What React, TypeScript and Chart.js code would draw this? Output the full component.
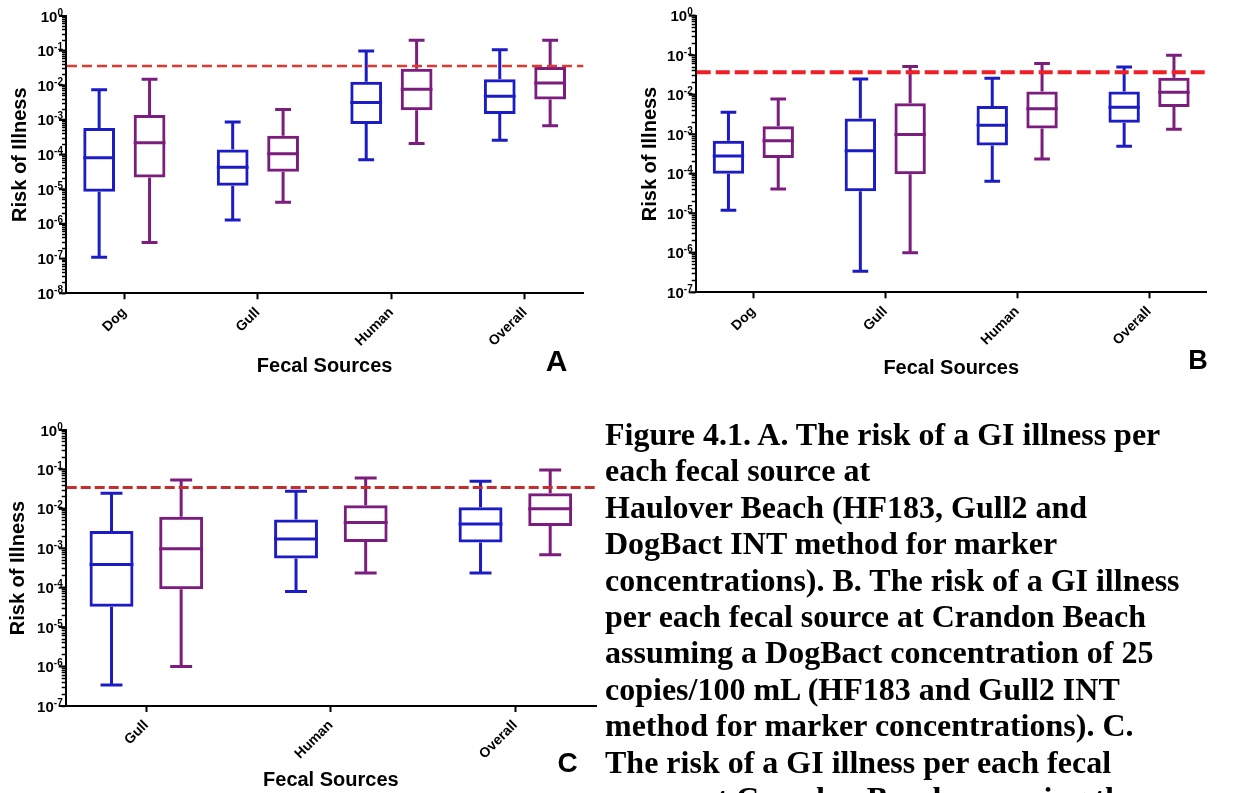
import React, { useEffect, useRef } from 'react';
import { Chart, registerables } from 'chart.js';

Chart.register(...registerables);

// Fecal source categories for each panel
const haulCategories = ['Dog', 'Gull', 'Human', 'Overall'];
const crandonCategories = ['Dog', 'Gull', 'Human', 'Overall'];
const crandonNoDogCategories = ['Gull', 'Human', 'Overall'];

// Five-number summaries per category: [min, Q1, median, Q3, max]
const haulBlue = [
  [1.1e-7, 8.5e-6, 8.1e-5, 5.9e-4, 7.5e-3],
  [1.3e-6, 1.26e-5, 4.3e-5, 1.4e-4, 8.7e-4],
  [7.1e-5, 7.7e-4, 3.2e-3, 1.26e-2, 0.098],
  [2.6e-4, 1.5e-3, 4.8e-3, 1.5e-2, 0.107],
];
const haulPurple = [
  [2.9e-7, 2.2e-5, 2.2e-4, 1.4e-3, 1.5e-2],
  [4.2e-6, 3.2e-5, 1.07e-4, 3.5e-4, 2.0e-3],
  [2.1e-4, 1.9e-3, 7.7e-3, 3.0e-2, 0.2],
  [6.8e-4, 3.9e-3, 1.17e-2, 3.4e-2, 0.2],
];
const crandonBlue = [
  [1.2e-5, 1.0e-4, 2.8e-4, 6.8e-4, 3.6e-3],
  [3.4e-7, 3.6e-5, 3.8e-4, 2.5e-3, 2.5e-2],
  [6.5e-5, 5.2e-4, 1.69e-3, 5.2e-3, 2.6e-2],
  [5.0e-4, 1.96e-3, 4.8e-3, 1.2e-2, 0.05],
];
const crandonPurple = [
  [4.1e-5, 2.5e-4, 6.8e-4, 1.6e-3, 7.8e-3],
  [1.0e-6, 9.7e-5, 9.8e-4, 6.1e-3, 5.2e-2],
  [2.35e-4, 1.4e-3, 4.4e-3, 1.2e-2, 6.2e-2],
  [1.33e-3, 4.9e-3, 1.15e-2, 2.7e-2, 0.1],
];
const crandonNoDogBlue = [
  [3.4e-7, 3.3e-5, 3.9e-4, 2.75e-3, 2.5e-2],
  [8.0e-5, 5.5e-4, 1.73e-3, 5.4e-3, 2.8e-2],
  [2.35e-4, 1.4e-3, 4.1e-3, 1.1e-2, 0.05],
];
const crandonNoDogPurple = [
  [1.0e-6, 9.1e-5, 9.8e-4, 6.3e-3, 5.4e-2],
  [2.36e-4, 1.44e-3, 4.5e-3, 1.23e-2, 6.1e-2],
  [6.9e-4, 3.7e-3, 1.0e-2, 2.5e-2, 0.097],
];

// Benchmark risk shown as a dashed horizontal line
const haulBenchmark = 0.036;
const crandonBenchmark = 0.037;
const crandonNoDogBenchmark = 0.035;

// Y axis ranges (powers of ten)
const haulRange = [1e-8, 1];
const crandonRange = [1e-7, 1];
const crandonNoDogRange = [1e-7, 1];

const captionLines = [
  'Figure 4.1. A. The risk of a GI illness per',
  'each fecal source at',
  'Haulover Beach (HF183, Gull2 and',
  'DogBact INT method for marker',
  'concentrations). B. The risk of a GI illness',
  'per each fecal source at Crandon Beach',
  'assuming a DogBact concentration of 25',
  'copies/100 mL (HF183 and Gull2 INT',
  'method for marker concentrations). C.',
  'The risk of a GI illness per each fecal',
  'source at Crandon Beach assuming the',
];

const BLUE = '#1c1cc4';
const PURPLE = '#7a1d7c';
const SANS = '"Liberation Sans", Arial, sans-serif';

// Ticks at 1..9 x 10^n for every decade of the range
function logTicks(min: number, max: number) {
  const out: { value: number; major: boolean }[] = [];
  const e0 = Math.round(Math.log10(min));
  const e1 = Math.round(Math.log10(max));
  for (let e = e0; e <= e1; e++) {
    for (let k = 1; k <= 9; k++) {
      if (e === e1 && k > 1) break;
      out.push({ value: k * Math.pow(10, e), major: k === 1 });
    }
  }
  return out;
}

// Whiskers, medians, the dashed benchmark line and 10^n axis labels
const boxWhiskers = {
  id: 'boxWhiskers',
  afterDatasetsDraw(chart: any, _args: any, opts: any) {
    const { ctx, chartArea, scales } = chart;
    const yS = scales.y;
    const py = (v: number) => yS.getPixelForValue(v);
    ctx.save();
    chart.data.datasets.forEach((ds: any, di: number) => {
      const meta = chart.getDatasetMeta(di);
      ctx.strokeStyle = ds.borderColor;
      ctx.lineWidth = opts.lineWidth;
      ctx.lineCap = 'butt';
      meta.data.forEach((bar: any, i: number) => {
        const [mn, q1, md, q3, mx] = ds.stats[i];
        const { x, width } = bar.getProps(['x', 'width'], true);
        const half = width / 2;
        const cap = (width * opts.capRatio) / 2;
        ctx.beginPath();
        ctx.moveTo(x - half, py(md));
        ctx.lineTo(x + half, py(md));
        ctx.moveTo(x, py(q3));
        ctx.lineTo(x, py(mx));
        ctx.moveTo(x - cap, py(mx));
        ctx.lineTo(x + cap, py(mx));
        ctx.moveTo(x, py(q1));
        ctx.lineTo(x, py(mn));
        ctx.moveTo(x - cap, py(mn));
        ctx.lineTo(x + cap, py(mn));
        ctx.stroke();
      });
    });
    const yb = py(opts.benchmark);
    ctx.strokeStyle = opts.benchColor;
    ctx.lineWidth = opts.benchWidth;
    ctx.setLineDash(opts.benchDash);
    ctx.beginPath();
    ctx.moveTo(chartArea.left + 1, yb);
    ctx.lineTo(chartArea.right, yb);
    ctx.stroke();
    ctx.restore();
  },
  afterDraw(chart: any, _args: any, opts: any) {
    const { ctx, chartArea, scales } = chart;
    const yS = scales.y;
    ctx.save();
    ctx.fillStyle = '#000';
    ctx.strokeStyle = '#000';
    ctx.lineWidth = 2;
    ctx.textAlign = 'right';
    ctx.textBaseline = 'alphabetic';
    logTicks(opts.range[0], opts.range[1])
      .filter((t) => t.major)
      .forEach((t) => {
        const y = yS.getPixelForValue(t.value);
        // longer tick mark at each decade
        ctx.beginPath();
        ctx.moveTo(chartArea.left - 7, y);
        ctx.lineTo(chartArea.left, y);
        ctx.stroke();
        const exp = String(Math.round(Math.log10(t.value)));
        const right = chartArea.left - 3;
        ctx.font = `bold 10px ${SANS}`;
        ctx.fillText(exp, right, y - 0.5);
        const ew = ctx.measureText(exp).width;
        ctx.font = `bold 15px ${SANS}`;
        ctx.fillText('10', right - ew, y + 5.5);
      });
    ctx.restore();
  },
};

type PanelProps = {
  categories: string[];
  blue: number[][];
  purple: number[][];
  benchmark: number;
  range: number[];
  left: number;
  top: number;
  w: number;
  h: number;
  yAxisWidth: number;
  padTop: number;
  padRight: number;
  xAxisHeight: number;
  yTitlePad: number;
  xTitlePad: number;
  benchColor: string;
  benchWidth: number;
  benchDash: number[];
};

function BoxPanel(p: PanelProps) {
  const ref = useRef<HTMLCanvasElement>(null);
  useEffect(() => {
    const n = p.categories.length;
    const toBars = (stats: number[][]) => stats.map((s, i) => ({ x: i, y: [s[1], s[3]] }));
    const series = (stats: number[][], color: string) =>
      ({
        data: toBars(stats),
        stats,
        borderColor: color,
        backgroundColor: 'rgba(0,0,0,0)',
        borderWidth: 3,
        borderSkipped: false,
        categoryPercentage: 0.755,
        barPercentage: 0.63,
      } as any);
    const chart = new Chart(ref.current as HTMLCanvasElement, {
      type: 'bar',
      data: { datasets: [series(p.blue, BLUE), series(p.purple, PURPLE)] },
      options: {
        responsive: false,
        animation: false,
        events: [],
        layout: { padding: { top: p.padTop, right: p.padRight, bottom: 0, left: 0 } },
        plugins: {
          legend: { display: false },
          tooltip: { enabled: false },
          boxWhiskers: {
            lineWidth: 3,
            capRatio: 0.5,
            range: p.range,
            benchmark: p.benchmark,
            benchColor: p.benchColor,
            benchWidth: p.benchWidth,
            benchDash: p.benchDash,
          },
        } as any,
        scales: {
          x: {
            type: 'linear',
            offset: false,
            min: -0.437,
            max: n - 1 + 0.437,
            afterBuildTicks: (s: any) => {
              s.ticks = p.categories.map((_, i) => ({ value: i }));
            },
            afterFit: (s: any) => {
              s.height = p.xAxisHeight;
            },
            grid: {
              offset: false,
              drawOnChartArea: false,
              drawTicks: true,
              tickLength: 6,
              tickWidth: 2,
              tickColor: '#000',
            },
            border: { display: true, color: '#000', width: 2 },
            ticks: {
              autoSkip: false,
              minRotation: 45,
              maxRotation: 45,
              padding: 5,
              color: '#000',
              font: { family: SANS, size: 14, weight: 'bold' },
              callback: (v: any) => p.categories[Math.round(Number(v))] ?? '',
            },
            title: {
              display: true,
              text: 'Fecal Sources',
              color: '#000',
              font: { family: SANS, size: 20, weight: 'bold' },
              padding: { top: 0, bottom: p.xTitlePad },
            },
          } as any,
          y: {
            type: 'logarithmic',
            min: p.range[0],
            max: p.range[1],
            afterBuildTicks: (s: any) => {
              s.ticks = logTicks(p.range[0], p.range[1]);
            },
            afterFit: (s: any) => {
              s.width = p.yAxisWidth;
            },
            grid: { drawOnChartArea: false, drawTicks: true, tickLength: 4, tickWidth: 1.5, tickColor: '#000' },
            border: { display: true, color: '#000', width: 2 },
            ticks: {
              autoSkip: false,
              padding: 0,
              color: '#000',
              font: { family: SANS, size: 15, weight: 'bold' },
              callback: () => '',
            },
            title: {
              display: true,
              text: 'Risk of Illness',
              color: '#000',
              font: { family: SANS, size: 20, weight: 'bold' },
              padding: { top: p.yTitlePad, bottom: 0 },
            },
          } as any,
        },
      },
      plugins: [boxWhiskers as any],
    });
    return () => chart.destroy();
  }, []);
  return (
    <canvas
      ref={ref}
      width={p.w}
      height={p.h}
      style={{ position: 'absolute', left: p.left, top: p.top, width: p.w, height: p.h }}
    />
  );
}

const letterStyle = (x: number, y: number, size: number): React.CSSProperties => ({
  position: 'absolute',
  left: x,
  top: y,
  transform: 'translate(-50%, -50%)',
  font: `bold ${size}px ${SANS}`,
  lineHeight: 1,
  color: '#000',
});

export default function App() {
  return (
    <div style={{ position: 'fixed', left: 0, top: 0, width: 1238, height: 793, overflow: 'hidden', background: '#fff' }}>
      <BoxPanel
        categories={haulCategories}
        blue={haulBlue}
        purple={haulPurple}
        benchmark={haulBenchmark}
        range={haulRange}
        left={0}
        top={0}
        w={600}
        h={395}
        yAxisWidth={66}
        padTop={16}
        padRight={16.7}
        xAxisHeight={101.7}
        yTitlePad={8}
        xTitlePad={17}
        benchColor="#e2382f"
        benchWidth={2.5}
        benchDash={[10, 5]}
      />
      <BoxPanel
        categories={crandonCategories}
        blue={crandonBlue}
        purple={crandonPurple}
        benchmark={crandonBenchmark}
        range={crandonRange}
        left={620}
        top={0}
        w={600}
        h={395}
        yAxisWidth={75.7}
        padTop={15.7}
        padRight={13.3}
        xAxisHeight={102.7}
        yTitlePad={18}
        xTitlePad={15}
        benchColor="#ee1f25"
        benchWidth={4}
        benchDash={[14, 5]}
      />
      <BoxPanel
        categories={crandonNoDogCategories}
        blue={crandonNoDogBlue}
        purple={crandonNoDogPurple}
        benchmark={crandonNoDogBenchmark}
        range={crandonNoDogRange}
        left={0}
        top={400}
        w={620}
        h={393}
        yAxisWidth={65.7}
        padTop={30}
        padRight={24}
        xAxisHeight={87}
        yTitlePad={6}
        xTitlePad={1}
        benchColor="#c42f2b"
        benchWidth={3}
        benchDash={[10, 4]}
      />
      <div style={letterStyle(556.7, 361, 30)}>A</div>
      <div style={letterStyle(1198, 360, 27)}>B</div>
      <div style={letterStyle(567.5, 763, 28)}>C</div>
      <div
        style={{
          position: 'absolute',
          left: 605,
          top: 416,
          font: 'bold 32px "Liberation Serif", "Times New Roman", serif',
          lineHeight: '36.4px',
          color: '#000',
          whiteSpace: 'nowrap',
        }}
      >
        {captionLines.map((line, i) => (
          <div key={i}>{line}</div>
        ))}
      </div>
    </div>
  );
}
